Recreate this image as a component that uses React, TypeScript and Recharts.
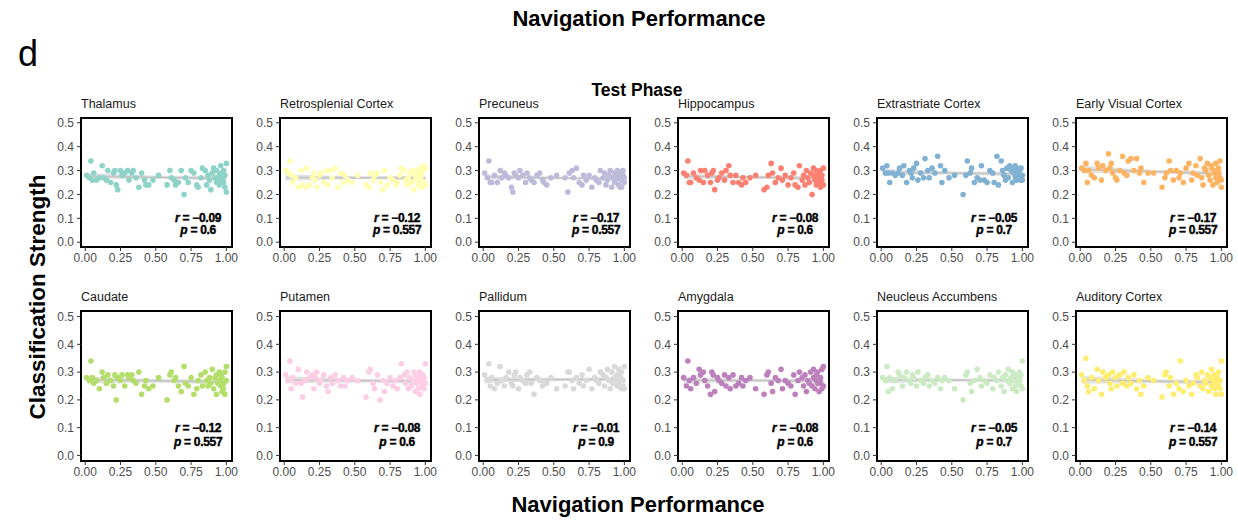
import {
  ComposedChart,
  Scatter,
  Line,
  Area,
  XAxis,
  YAxis,
  ReferenceArea,
  ReferenceDot,
} from "recharts";

const FONT = '"Liberation Sans", Arial, Helvetica, sans-serif';

// navigation performance per participant (shared by every region)
const navPerformance = [
  0.01, 0.03, 0.04, 0.05, 0.06, 0.08, 0.10, 0.12, 0.13, 0.15,
  0.16, 0.18, 0.20, 0.21, 0.22, 0.23, 0.25, 0.26, 0.28, 0.30,
  0.31, 0.33, 0.34, 0.36, 0.38, 0.40, 0.42, 0.43, 0.45, 0.48,
  0.52, 0.58, 0.60, 0.61, 0.63, 0.64, 0.66, 0.68, 0.70, 0.71,
  0.73, 0.75, 0.77, 0.79, 0.80, 0.82, 0.83, 0.85, 0.86, 0.87,
  0.88, 0.89, 0.90, 0.91, 0.92, 0.93, 0.93, 0.94, 0.95, 0.95,
  0.96, 0.96, 0.97, 0.98, 0.98, 0.99, 0.99, 1.00, 1.00, 0.97,
];

// classification strength per region
const thalamus = [
  0.28, 0.27, 0.34, 0.26, 0.29, 0.26, 0.27, 0.32, 0.27, 0.26,
  0.30, 0.25, 0.29, 0.30, 0.24, 0.22, 0.30, 0.28, 0.29, 0.30,
  0.26, 0.29, 0.30, 0.27, 0.23, 0.29, 0.26, 0.24, 0.24, 0.26,
  0.28, 0.24, 0.30, 0.27, 0.26, 0.24, 0.25, 0.30, 0.20, 0.27,
  0.25, 0.30, 0.29, 0.24, 0.23, 0.27, 0.31, 0.30, 0.24, 0.28,
  0.26, 0.22, 0.29, 0.31, 0.27, 0.25, 0.30, 0.26, 0.24, 0.28,
  0.32, 0.29, 0.27, 0.25, 0.30, 0.23, 0.28, 0.33, 0.21, 0.26,
];
const retrosplenial = [
  0.30, 0.29, 0.34, 0.28, 0.25, 0.27, 0.23, 0.30, 0.24, 0.23,
  0.31, 0.24, 0.27, 0.29, 0.26, 0.23, 0.28, 0.29, 0.25, 0.30,
  0.24, 0.30, 0.27, 0.31, 0.23, 0.29, 0.25, 0.28, 0.26, 0.25,
  0.28, 0.24, 0.23, 0.29, 0.26, 0.28, 0.29, 0.25, 0.22, 0.30,
  0.24, 0.27, 0.26, 0.24, 0.25, 0.28, 0.31, 0.30, 0.26, 0.24,
  0.27, 0.29, 0.25, 0.30, 0.22, 0.26, 0.28, 0.30, 0.24, 0.27,
  0.31, 0.29, 0.26, 0.23, 0.30, 0.32, 0.25, 0.31, 0.24, 0.28,
];
const precuneus = [
  0.29, 0.27, 0.34, 0.25, 0.25, 0.28, 0.25, 0.30, 0.27, 0.29,
  0.28, 0.27, 0.23, 0.21, 0.29, 0.28, 0.27, 0.30, 0.28, 0.25,
  0.29, 0.27, 0.26, 0.25, 0.28, 0.29, 0.26, 0.25, 0.24, 0.27,
  0.28, 0.27, 0.21, 0.29, 0.30, 0.27, 0.31, 0.25, 0.24, 0.28,
  0.26, 0.28, 0.23, 0.27, 0.26, 0.25, 0.30, 0.27, 0.29, 0.24,
  0.26, 0.28, 0.30, 0.23, 0.27, 0.29, 0.25, 0.26, 0.28, 0.30,
  0.24, 0.27, 0.29, 0.23, 0.26, 0.28, 0.30, 0.25, 0.27, 0.23,
];
const hippocampus = [
  0.29, 0.28, 0.34, 0.25, 0.25, 0.29, 0.27, 0.26, 0.30, 0.25,
  0.30, 0.28, 0.25, 0.29, 0.30, 0.22, 0.26, 0.27, 0.29, 0.26,
  0.30, 0.32, 0.28, 0.25, 0.28, 0.25, 0.24, 0.27, 0.25, 0.27,
  0.28, 0.22, 0.23, 0.28, 0.33, 0.29, 0.25, 0.27, 0.31, 0.26,
  0.28, 0.24, 0.27, 0.29, 0.24, 0.23, 0.32, 0.26, 0.28, 0.24,
  0.30, 0.27, 0.25, 0.29, 0.20, 0.31, 0.28, 0.26, 0.30, 0.24,
  0.29, 0.27, 0.25, 0.30, 0.23, 0.28, 0.26, 0.31, 0.24, 0.27,
];
const extrastriate = [
  0.31, 0.29, 0.32, 0.29, 0.25, 0.29, 0.28, 0.29, 0.31, 0.28,
  0.32, 0.25, 0.30, 0.29, 0.27, 0.31, 0.33, 0.26, 0.29, 0.27,
  0.35, 0.30, 0.27, 0.31, 0.29, 0.36, 0.32, 0.25, 0.30, 0.27,
  0.28, 0.20, 0.28, 0.34, 0.29, 0.31, 0.25, 0.27, 0.26, 0.32,
  0.26, 0.25, 0.30, 0.29, 0.25, 0.36, 0.24, 0.34, 0.30, 0.28,
  0.26, 0.31, 0.27, 0.32, 0.30, 0.25, 0.31, 0.29, 0.27, 0.32,
  0.31, 0.26, 0.29, 0.30, 0.28, 0.26, 0.31, 0.28, 0.26, 0.29,
];
const earlyVisual = [
  0.31, 0.30, 0.33, 0.25, 0.30, 0.28, 0.27, 0.33, 0.31, 0.26,
  0.32, 0.30, 0.37, 0.31, 0.33, 0.29, 0.27, 0.26, 0.30, 0.36,
  0.29, 0.28, 0.34, 0.35, 0.30, 0.35, 0.29, 0.31, 0.25, 0.29,
  0.29, 0.23, 0.27, 0.29, 0.34, 0.30, 0.26, 0.30, 0.27, 0.29,
  0.25, 0.31, 0.33, 0.26, 0.29, 0.32, 0.28, 0.35, 0.27, 0.24,
  0.31, 0.30, 0.33, 0.28, 0.26, 0.31, 0.32, 0.24, 0.30, 0.29,
  0.27, 0.33, 0.25, 0.31, 0.29, 0.27, 0.34, 0.23, 0.26, 0.30,
];
const caudate = [
  0.28, 0.27, 0.34, 0.28, 0.26, 0.27, 0.24, 0.30, 0.28, 0.26,
  0.29, 0.27, 0.25, 0.29, 0.20, 0.28, 0.27, 0.29, 0.25, 0.29,
  0.28, 0.29, 0.27, 0.26, 0.30, 0.22, 0.25, 0.27, 0.24, 0.25,
  0.28, 0.20, 0.29, 0.30, 0.27, 0.28, 0.25, 0.23, 0.32, 0.26,
  0.25, 0.28, 0.22, 0.24, 0.27, 0.29, 0.25, 0.30, 0.27, 0.25,
  0.28, 0.26, 0.31, 0.24, 0.28, 0.22, 0.29, 0.26, 0.30, 0.27,
  0.25, 0.29, 0.28, 0.24, 0.26, 0.30, 0.22, 0.32, 0.27, 0.23,
];
const putamen = [
  0.29, 0.27, 0.34, 0.24, 0.28, 0.26, 0.31, 0.26, 0.21, 0.27,
  0.30, 0.28, 0.29, 0.24, 0.28, 0.30, 0.26, 0.27, 0.29, 0.25,
  0.23, 0.28, 0.26, 0.29, 0.27, 0.25, 0.28, 0.25, 0.27, 0.28,
  0.27, 0.21, 0.30, 0.31, 0.26, 0.24, 0.29, 0.20, 0.27, 0.23,
  0.26, 0.28, 0.25, 0.27, 0.24, 0.28, 0.33, 0.29, 0.26, 0.30,
  0.24, 0.28, 0.25, 0.27, 0.30, 0.23, 0.29, 0.26, 0.28, 0.24,
  0.30, 0.22, 0.27, 0.29, 0.25, 0.28, 0.24, 0.33, 0.26, 0.27,
];
const pallidum = [
  0.29, 0.27, 0.33, 0.25, 0.28, 0.24, 0.26, 0.32, 0.27, 0.25,
  0.28, 0.30, 0.26, 0.25, 0.29, 0.30, 0.24, 0.28, 0.27, 0.26,
  0.29, 0.30, 0.26, 0.22, 0.28, 0.27, 0.25, 0.27, 0.26, 0.28,
  0.24, 0.25, 0.30, 0.30, 0.27, 0.24, 0.28, 0.26, 0.29, 0.25,
  0.27, 0.31, 0.24, 0.28, 0.27, 0.26, 0.30, 0.29, 0.25, 0.28,
  0.31, 0.27, 0.24, 0.30, 0.26, 0.28, 0.32, 0.27, 0.25, 0.29,
  0.31, 0.26, 0.28, 0.24, 0.30, 0.27, 0.25, 0.32, 0.24, 0.28,
];
const amygdala = [
  0.28, 0.25, 0.34, 0.27, 0.24, 0.28, 0.26, 0.31, 0.29, 0.30,
  0.27, 0.25, 0.22, 0.30, 0.29, 0.23, 0.28, 0.27, 0.26, 0.29,
  0.25, 0.28, 0.24, 0.29, 0.25, 0.26, 0.28, 0.25, 0.27, 0.28,
  0.24, 0.22, 0.29, 0.30, 0.26, 0.23, 0.28, 0.27, 0.31, 0.24,
  0.27, 0.26, 0.25, 0.29, 0.22, 0.27, 0.30, 0.28, 0.25, 0.29,
  0.23, 0.27, 0.26, 0.30, 0.25, 0.28, 0.31, 0.24, 0.27, 0.29,
  0.26, 0.30, 0.23, 0.28, 0.26, 0.31, 0.24, 0.32, 0.25, 0.27,
];
const accumbens = [
  0.28, 0.27, 0.32, 0.23, 0.28, 0.24, 0.27, 0.30, 0.29, 0.25,
  0.28, 0.30, 0.27, 0.26, 0.29, 0.28, 0.25, 0.30, 0.27, 0.26,
  0.28, 0.29, 0.25, 0.27, 0.26, 0.28, 0.24, 0.27, 0.28, 0.27,
  0.24, 0.20, 0.29, 0.30, 0.26, 0.23, 0.27, 0.31, 0.28, 0.25,
  0.27, 0.26, 0.29, 0.24, 0.28, 0.27, 0.30, 0.25, 0.28, 0.23,
  0.29, 0.27, 0.31, 0.26, 0.28, 0.24, 0.30, 0.27, 0.25, 0.29,
  0.23, 0.28, 0.26, 0.30, 0.27, 0.25, 0.29, 0.34, 0.24, 0.27,
];
const auditory = [
  0.29, 0.27, 0.35, 0.25, 0.23, 0.28, 0.24, 0.31, 0.27, 0.22,
  0.30, 0.28, 0.29, 0.26, 0.24, 0.30, 0.28, 0.25, 0.29, 0.26,
  0.30, 0.25, 0.28, 0.26, 0.29, 0.24, 0.27, 0.22, 0.25, 0.28,
  0.27, 0.21, 0.29, 0.30, 0.25, 0.28, 0.22, 0.26, 0.24, 0.34,
  0.23, 0.27, 0.25, 0.22, 0.26, 0.29, 0.28, 0.25, 0.30, 0.24,
  0.27, 0.26, 0.29, 0.23, 0.28, 0.25, 0.31, 0.27, 0.24, 0.29,
  0.26, 0.22, 0.28, 0.30, 0.25, 0.27, 0.24, 0.34, 0.22, 0.26,
];

const regionNames = [
  "Thalamus", "Retrosplenial Cortex", "Precuneus", "Hippocampus", "Extrastriate Cortex", "Early Visual Cortex",
  "Caudate", "Putamen", "Pallidum", "Amygdala", "Neucleus Accumbens", "Auditory Cortex",
];
const regionValues = [
  thalamus, retrosplenial, precuneus, hippocampus, extrastriate, earlyVisual,
  caudate, putamen, pallidum, amygdala, accumbens, auditory,
];
const regionColors = [
  "#8dd3c7", "#ffffb3", "#bebada", "#fb8072", "#80b1d3", "#fdb462",
  "#b3de69", "#fccde5", "#d9d9d9", "#bc80bd", "#ccebc5", "#ffed6f",
];
const rLabels = ["−0.09", "−0.12", "−0.17", "−0.08", "−0.05", "−0.17", "−0.12", "−0.08", "−0.01", "−0.08", "−0.05", "−0.14"];
const pLabels = ["0.6", "0.557", "0.557", "0.6", "0.7", "0.557", "0.557", "0.6", "0.9", "0.6", "0.7", "0.557"];

const xTicks = [0, 0.25, 0.5, 0.75, 1];
const yTicks = [0, 0.1, 0.2, 0.3, 0.4, 0.5];
const X_DOMAIN: [number, number] = [-0.03, 1.04];
const Y_DOMAIN: [number, number] = [-0.02, 0.52];

// linear fit + 95% confidence band (like geom_smooth(method = "lm"))
function fitLine(xs: number[], ys: number[]) {
  const n = xs.length;
  const mx = xs.reduce((a, b) => a + b, 0) / n;
  const my = ys.reduce((a, b) => a + b, 0) / n;
  let sxx = 0;
  let sxy = 0;
  xs.forEach((x, i) => {
    sxx += (x - mx) ** 2;
    sxy += (x - mx) * (ys[i] - my);
  });
  const slope = sxy / sxx;
  const icpt = my - slope * mx;
  let sse = 0;
  xs.forEach((x, i) => {
    sse += (ys[i] - (icpt + slope * x)) ** 2;
  });
  const s = Math.sqrt(sse / (n - 2));
  const t = 1.995;
  const lo = Math.min(...xs);
  const hi = Math.max(...xs);
  const out: { x: number; fit: number; band: [number, number] }[] = [];
  for (let i = 0; i <= 20; i++) {
    const x = lo + ((hi - lo) * i) / 20;
    const f = icpt + slope * x;
    const se = s * Math.sqrt(1 / n + (x - mx) ** 2 / sxx);
    out.push({ x, fit: f, band: [f - t * se, f + t * se] });
  }
  return out;
}

const statLabel = (letter: string, value: string) => (props: any) => {
  const vb = props.viewBox || {};
  const cx = vb.x + (vb.width || 0) / 2;
  const cy = vb.y + (vb.height || 0) / 2;
  return (
    <text
      x={cx}
      y={cy}
      textAnchor="middle"
      dominantBaseline="central"
      fontFamily={FONT}
      fontWeight="bold"
      fontSize={12}
      letterSpacing={-0.3}
      fill="#000"
      stroke="#000"
      strokeWidth={0.4}
    >
      <tspan fontStyle="italic">{letter}</tspan>
      {` = ${value}`}
    </text>
  );
};

const PLOT_W = 151;
const Y_AXIS_W = 30;
const X_AXIS_H = 22;
const PAD = 2;
const RIGHT_PAD = 16;

function Panel({ idx, left, top, plotH }: { idx: number; left: number; top: number; plotH: number }) {
  const ys = regionValues[idx];
  const color = regionColors[idx];
  const points = navPerformance.map((x, i) => ({ x, y: ys[i] }));
  const fit = fitLine(navPerformance, ys);

  return (
    <div style={{ position: "absolute", left: left - Y_AXIS_W, top: top - PAD }}>
      <ComposedChart
        width={Y_AXIS_W + PLOT_W + RIGHT_PAD}
        height={PAD + plotH + X_AXIS_H}
        data={fit}
        margin={{ top: PAD, right: RIGHT_PAD, bottom: 0, left: 0 }}
        style={{ fontFamily: FONT }}
      >
        <XAxis
          type="number"
          dataKey="x"
          domain={X_DOMAIN}
          ticks={xTicks}
          allowDataOverflow
          height={X_AXIS_H}
          tickFormatter={(v: number) => v.toFixed(2)}
          tick={{ fontSize: 12, fill: "#4d4d4d" }}
          tickLine={{ stroke: "#333" }}
          tickSize={4}
          tickMargin={2}
          axisLine={false}
          interval={0}
        />
        <YAxis
          type="number"
          dataKey="y"
          domain={Y_DOMAIN}
          ticks={yTicks}
          allowDataOverflow
          width={Y_AXIS_W}
          tickFormatter={(v: number) => v.toFixed(1)}
          tick={{ fontSize: 12, fill: "#4d4d4d" }}
          tickLine={{ stroke: "#333" }}
          tickSize={4}
          tickMargin={3}
          axisLine={false}
          interval={0}
        />
        <Scatter
          data={points}
          dataKey="y"
          isAnimationActive={false}
          shape={(p: any) => <circle cx={p.cx} cy={p.cy} r={2.8} fill={color} />}
        />
        <Area
          dataKey="band"
          type="linear"
          stroke="none"
          fill="#9e9e9e"
          fillOpacity={0.3}
          isAnimationActive={false}
          dot={false}
          activeDot={false}
        />
        <Line
          dataKey="fit"
          type="linear"
          stroke="#c4c4c4"
          strokeWidth={1.6}
          dot={false}
          activeDot={false}
          isAnimationActive={false}
        />
        <ReferenceDot
          x={0.8}
          y={0.1}
          r={1}
          fill="none"
          stroke="none"
          label={{ content: statLabel("r", rLabels[idx]) }}
        />
        <ReferenceDot
          x={0.8}
          y={0.05}
          r={1}
          fill="none"
          stroke="none"
          label={{ content: statLabel("p", pLabels[idx]) }}
        />
        <ReferenceArea
          x1={X_DOMAIN[0]}
          x2={X_DOMAIN[1]}
          y1={Y_DOMAIN[0]}
          y2={Y_DOMAIN[1]}
          fill="none"
          stroke="#000"
          strokeWidth={2}
          ifOverflow="visible"
        />
      </ComposedChart>
    </div>
  );
}

const COL_LEFT = [80.5, 279.5, 478.5, 677.5, 876.5, 1075.5];
const ROWS = [
  { top: 118, plotH: 129, titleY: 107.5 },
  { top: 311, plotH: 150, titleY: 301 },
];

export default function App() {
  return (
    <div
      style={{
        position: "absolute",
        left: 0,
        top: 0,
        width: 1238,
        height: 529,
        background: "#fff",
        fontFamily: FONT,
      }}
    >
      <svg width={1238} height={529} style={{ position: "absolute", left: 0, top: 0 }}>
        <text x={639} y={26} textAnchor="middle" fontSize={22} fontWeight="bold" fill="#000" fontFamily={FONT}>
          Navigation Performance
        </text>
        <text x={18} y={66} fontSize={36} fill="#000" fontFamily={FONT}>
          d
        </text>
        <text x={637} y={95.5} textAnchor="middle" fontSize={17.5} fontWeight="bold" fill="#000" fontFamily={FONT}>
          Test Phase
        </text>
        <text
          x={0}
          y={0}
          transform="translate(45,297) rotate(-90)"
          textAnchor="middle"
          fontSize={22.5}
          fontWeight="bold"
          fill="#000"
          fontFamily={FONT}
        >
          Classification Strength
        </text>
        <text x={638} y={512} textAnchor="middle" fontSize={22} fontWeight="bold" fill="#000" fontFamily={FONT}>
          Navigation Performance
        </text>
        {regionNames.map((name, i) => {
          const row = ROWS[Math.floor(i / 6)];
          return (
            <text key={name} x={COL_LEFT[i % 6] + 0.5} y={row.titleY} fontSize={12.5} fill="#1a1a1a" fontFamily={FONT}>
              {name}
            </text>
          );
        })}
      </svg>
      {regionNames.map((name, i) => {
        const row = ROWS[Math.floor(i / 6)];
        return <Panel key={name} idx={i} left={COL_LEFT[i % 6]} top={row.top} plotH={row.plotH} />;
      })}
    </div>
  );
}
